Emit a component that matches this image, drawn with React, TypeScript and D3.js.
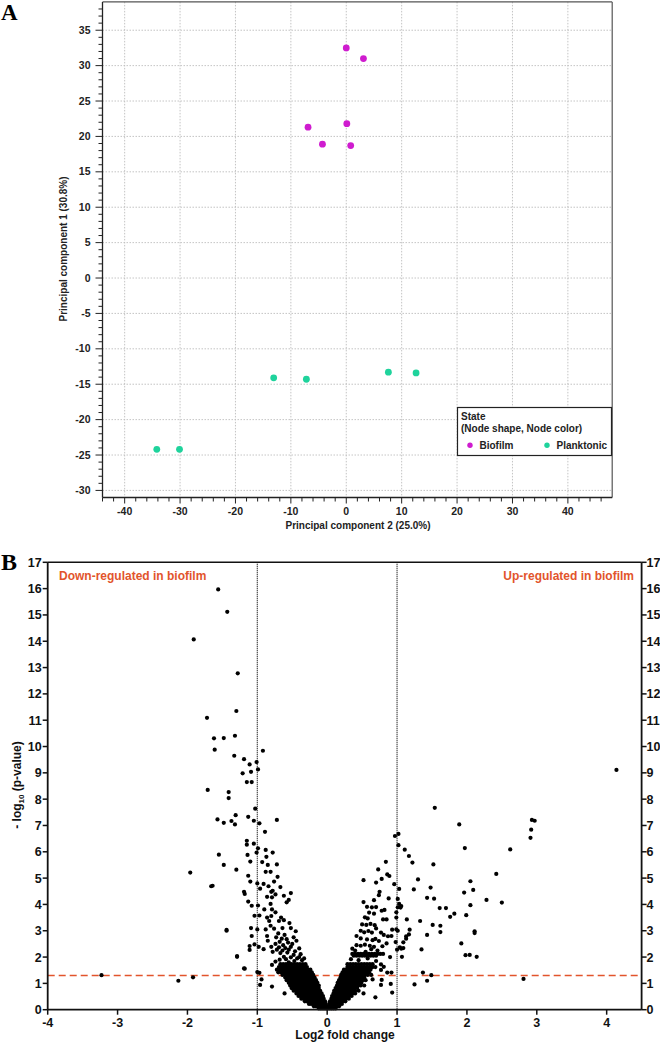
import React from 'react';
import * as d3 from 'd3';

// ---------- Panel A data (PCA) ----------
const biofilmPC2 = [0.0, 3.1, -6.9, -4.3, 0.1, 0.8];
const biofilmPC1 = [32.5, 31.0, 21.3, 18.9, 21.8, 18.7];
const planktonicPC2 = [-34.2, -30.1, -13.1, -7.2, 7.6, 12.6];
const planktonicPC1 = [-24.2, -24.2, -14.1, -14.3, -13.3, -13.4];
const pcaXTicks = [-40, -30, -20, -10, 0, 10, 20, 30, 40];
const pcaYTicks = [-30, -25, -20, -15, -10, -5, 0, 5, 10, 15, 20, 25, 30, 35];
const legendLabels = ['Biofilm', 'Planktonic'];

// ---------- Panel B data (volcano) ----------
const volcanoXTicks = [-4, -3, -2, -1, 0, 1, 2, 3, 4];
const volcanoYTicks = [0, 1, 2, 3, 4, 5, 6, 7, 8, 9, 10, 11, 12, 13, 14, 15, 16, 17];
const foldThresholds = [-1, 1];
const pThreshold = 1.3;

const downSparse: [number, number][] = [
  [-1.56, 15.97], [-1.43, 15.12], [-1.91, 14.07], [-1.28, 12.78], [-1.30, 11.35], [-1.72, 11.09],
  [-1.62, 10.31], [-1.48, 10.32], [-1.32, 10.41], [-1.61, 9.88], [-0.92, 9.84], [-1.33, 9.65],
  [-1.19, 9.52], [-1.11, 9.32], [-1.01, 9.41], [-1.09, 9.04], [-1.21, 8.98], [-0.99, 9.13],
  [-1.15, 8.65], [-1.08, 8.65], [-1.71, 8.35], [-1.41, 8.27], [-1.41, 8.04], [-1.03, 7.64],
  [-1.57, 7.23], [-1.48, 7.10], [-1.37, 7.17], [-1.31, 7.39], [-1.32, 7.04], [-1.13, 7.33],
  [-1.05, 7.18], [-0.97, 7.08], [-0.72, 7.21], [-0.89, 6.76], [-1.15, 6.42], [-1.15, 6.27],
  [-1.05, 6.31], [-0.99, 6.13], [-0.88, 6.07], [-1.55, 5.89], [-1.96, 5.21], [-1.66, 4.69],
  [-3.23, 1.31], [-2.13, 1.10], [-1.92, 1.23], [-1.14, 5.88], [-1.01, 5.97], [-0.93, 5.61],
  [-0.78, 5.97], [-0.87, 5.81], [-1.10, 5.63], [-1.48, 5.50], [-0.85, 5.50], [-0.72, 5.52],
  [-1.30, 5.32], [-0.88, 5.24], [-0.81, 5.24], [-1.13, 5.09], [-0.71, 5.05], [-1.10, 4.87],
  [-1.00, 4.80], [-0.91, 4.78], [-0.76, 4.87], [-0.84, 4.69], [-0.67, 4.66], [-0.78, 4.52],
  [-0.96, 4.60], [-1.19, 4.48], [-1.18, 4.40], [-0.80, 4.48], [-0.62, 4.33], [-0.52, 4.43],
  [-0.74, 4.38], [-0.86, 4.29], [-0.79, 4.27], [-0.55, 4.17], [-0.58, 4.08], [-1.13, 4.11],
  [-1.08, 3.95], [-0.99, 3.96], [-0.90, 3.81], [-0.81, 4.02], [-0.79, 3.81], [-0.74, 3.70],
  [-1.04, 3.57], [-0.97, 3.58], [-0.86, 3.50], [-0.80, 3.56], [-0.66, 3.50], [-0.83, 3.37],
  [-0.69, 3.37], [-0.62, 3.40], [-0.54, 3.29], [-0.81, 3.19], [-1.44, 3.00], [-1.09, 3.10],
  [-1.00, 3.05], [-0.88, 3.05], [-0.76, 3.08], [-0.64, 3.10], [-0.52, 3.10], [-0.45, 2.98],
  [-1.08, 2.80], [-0.86, 2.80], [-0.73, 2.75], [-0.61, 2.84], [-0.48, 2.75], [-0.85, 2.62],
  [-0.68, 2.58], [-0.56, 2.55], [-0.44, 2.62], [-1.11, 2.42], [-1.04, 2.48], [-0.98, 2.39],
  [-0.91, 2.30], [-0.80, 2.39], [-0.69, 2.37], [-0.60, 2.34], [-0.52, 2.39], [-0.40, 2.33],
  [-1.11, 2.27], [-0.78, 2.20], [-0.67, 2.15], [-0.57, 2.17], [-0.48, 2.08], [-0.38, 2.11],
  [-1.29, 2.01], [-0.62, 2.01], [-0.52, 1.99], [-0.43, 1.95], [-0.79, 1.70], [-1.18, 1.56],
  [-1.00, 1.43], [-0.97, 1.40], [-0.96, 0.94], [-0.94, 1.15], [-0.79, 0.88], [-0.61, 0.62],
  [-1.19, 1.57], [-1.29, 2.04], [-1.44, 3.03], [-1.64, 4.71], [-0.70, 2.90], [-0.65, 2.70],
  [-0.58, 2.68], [-0.50, 2.50], [-0.63, 2.45], [-0.74, 2.50], [-0.55, 2.28], [-0.46, 2.22],
  [-0.72, 2.28], [-0.64, 2.25], [-0.59, 1.92], [-0.68, 1.90], [-0.36, 1.88], [-0.47, 1.85],
  [-0.74, 1.83], [-0.55, 1.80], [-0.40, 2.00], [-0.33, 1.95],
];

const upSparse: [number, number][] = [
  [0.97, 6.60], [1.02, 6.68], [1.02, 6.25], [1.11, 6.08], [1.54, 7.67], [1.89, 7.04],
  [4.14, 9.11], [2.93, 7.21], [2.97, 7.18], [2.92, 6.84], [2.91, 6.53], [1.97, 6.14],
  [2.62, 6.09], [1.17, 5.84], [1.22, 5.59], [1.52, 5.52], [2.42, 5.16], [1.30, 4.95],
  [1.24, 4.57], [1.48, 4.64], [2.05, 4.88], [2.09, 4.55], [1.96, 4.45], [1.43, 4.25],
  [1.53, 4.22], [2.28, 4.17], [2.50, 4.07], [2.05, 3.97], [1.61, 3.86], [1.70, 3.86],
  [1.82, 3.65], [1.76, 3.53], [1.99, 3.59], [1.14, 3.43], [1.33, 3.37], [1.51, 3.22],
  [1.62, 3.19], [1.62, 2.95], [2.11, 2.98], [2.11, 2.91], [1.18, 3.04], [1.43, 2.84],
  [1.17, 2.86], [1.13, 2.79], [1.13, 2.70], [1.09, 2.56], [1.92, 2.52], [1.35, 2.29],
  [1.09, 2.34], [1.06, 2.32], [1.07, 2.01], [1.98, 2.07], [2.04, 2.08], [2.14, 2.01],
  [1.37, 1.41], [1.49, 1.31], [1.43, 1.10], [1.25, 0.96], [2.81, 1.17], [1.06, 3.94],
  [1.05, 3.88], [0.84, 5.62], [0.73, 5.33], [0.86, 5.14], [0.89, 5.08], [0.78, 4.97],
  [0.52, 4.92], [0.70, 4.83], [0.96, 4.77], [1.03, 4.59], [0.75, 4.48], [0.67, 4.16],
  [0.52, 4.09], [0.74, 4.35], [0.88, 4.23], [1.01, 4.21], [1.03, 4.02], [0.57, 3.91],
  [0.64, 3.89], [0.70, 3.90], [0.78, 3.76], [0.82, 3.79], [1.01, 3.89], [0.60, 3.69],
  [0.67, 3.65], [0.99, 3.70], [0.54, 3.51], [0.58, 3.47], [0.80, 3.43], [0.85, 3.43],
  [0.99, 3.50], [0.50, 3.24], [0.56, 3.22], [0.62, 3.26], [0.68, 3.21], [0.70, 3.09],
  [0.93, 3.04], [0.99, 3.05], [1.01, 3.00], [0.48, 3.00], [0.53, 2.94], [0.59, 2.99],
  [0.64, 2.93], [0.77, 2.93], [0.81, 2.84], [0.87, 2.79], [0.92, 2.80], [0.42, 2.80],
  [0.48, 2.71], [0.57, 2.67], [0.65, 2.64], [0.69, 2.69], [0.74, 2.61], [0.85, 2.52],
  [0.98, 2.57], [0.42, 2.45], [0.48, 2.43], [0.54, 2.47], [0.61, 2.43], [0.67, 2.39],
  [0.79, 2.41], [1.04, 2.37], [1.00, 2.28], [0.90, 2.00], [0.77, 1.72], [0.81, 1.63],
  [0.77, 1.51], [0.86, 1.41], [0.92, 1.41], [0.65, 1.15], [0.78, 1.13], [0.77, 0.94],
  [0.91, 0.98], [0.93, 0.65], [0.69, 0.47], [0.52, 0.62], [0.34, 1.92], [0.45, 1.88],
  [0.58, 1.95], [0.70, 1.85], [0.40, 2.25], [0.55, 2.20], [0.63, 2.30], [0.72, 2.25],
  [0.36, 2.32],
];

// dense bands, read row by row: [-log10 p, list of log2 FC]
const denseRows: [number, number[]][] = [
  [2.12, [0.36, 0.40, 0.44, 0.48, 0.52, 0.56, 0.60, 0.64, 0.68, 0.72, 0.76, 0.80]],
  [2.05, [0.38, 0.42, 0.46, 0.50, 0.54, 0.58, 0.62, 0.66, 0.70]],
  [1.73, [-0.67, -0.63, -0.59, -0.55, -0.51, -0.47, -0.43, -0.39, -0.35, -0.31, 0.29, 0.33, 0.37, 0.41, 0.45, 0.49, 0.53, 0.57, 0.61, 0.65]],
  [1.62, [-0.69, -0.65, -0.61, -0.57, -0.53, -0.49, -0.45, -0.41, -0.37, -0.33, -0.29, 0.29, 0.33, 0.37, 0.41, 0.45, 0.49, 0.53, 0.57, 0.61, 0.65, 0.69]],
  [1.52, [-0.72, -0.68, -0.64, -0.60, -0.56, -0.52, -0.48, -0.44, -0.40, -0.36, -0.32, -0.28, -0.24, 0.24, 0.27, 0.30, 0.33, 0.36, 0.39, 0.42, 0.45, 0.48, 0.51, 0.55, 0.59, 0.62]],
  [1.42, [-0.70, -0.66, -0.62, -0.58, -0.54, -0.50, -0.46, -0.42, -0.38, -0.34, -0.30, -0.26, -0.22, 0.22, 0.25, 0.28, 0.31, 0.34, 0.37, 0.40, 0.43, 0.46, 0.49, 0.52, 0.56, 0.60]],
  [1.32, [-0.64, -0.60, -0.57, -0.53, -0.50, -0.47, -0.44, -0.41, -0.38, -0.35, -0.32, -0.29, -0.26, -0.23, -0.20, 0.20, 0.23, 0.26, 0.29, 0.32, 0.35, 0.38, 0.41, 0.44, 0.47, 0.50, 0.54, 0.58, 0.63]],
  [1.22, [-0.60, -0.56, -0.53, -0.50, -0.47, -0.44, -0.41, -0.38, -0.35, -0.32, -0.29, -0.26, -0.23, -0.20, -0.18, 0.19, 0.22, 0.25, 0.28, 0.31, 0.34, 0.37, 0.40, 0.43, 0.46, 0.49, 0.53]],
  [1.12, [-0.58, -0.54, -0.51, -0.48, -0.45, -0.42, -0.39, -0.36, -0.33, -0.30, -0.27, -0.24, -0.21, -0.18, -0.16, 0.17, 0.20, 0.23, 0.26, 0.29, 0.32, 0.35, 0.38, 0.41, 0.44, 0.47, 0.51, 0.55]],
  [1.02, [-0.55, -0.52, -0.49, -0.46, -0.43, -0.40, -0.37, -0.34, -0.31, -0.28, -0.25, -0.22, -0.19, -0.16, -0.14, 0.15, 0.18, 0.21, 0.24, 0.27, 0.30, 0.33, 0.36, 0.39, 0.42, 0.45, 0.49]],
  [0.92, [-0.53, -0.50, -0.47, -0.44, -0.41, -0.38, -0.35, -0.32, -0.29, -0.26, -0.23, -0.20, -0.17, -0.14, -0.12, 0.14, 0.17, 0.20, 0.23, 0.26, 0.29, 0.32, 0.35, 0.38, 0.41, 0.44, 0.48, 0.53]],
  [0.82, [-0.51, -0.48, -0.45, -0.42, -0.39, -0.36, -0.33, -0.30, -0.27, -0.24, -0.21, -0.18, -0.15, -0.12, 0.12, 0.15, 0.18, 0.21, 0.24, 0.27, 0.30, 0.33, 0.36, 0.39, 0.43]],
  [0.72, [-0.48, -0.45, -0.42, -0.39, -0.36, -0.33, -0.30, -0.27, -0.24, -0.21, -0.18, -0.15, -0.12, -0.10, 0.10, 0.13, 0.16, 0.19, 0.22, 0.25, 0.28, 0.31, 0.34, 0.37, 0.40, 0.45]],
  [0.62, [-0.44, -0.41, -0.38, -0.35, -0.32, -0.29, -0.26, -0.23, -0.20, -0.17, -0.14, -0.11, -0.08, 0.09, 0.12, 0.15, 0.18, 0.21, 0.24, 0.27, 0.30, 0.33, 0.36, 0.40]],
  [0.52, [-0.41, -0.38, -0.35, -0.32, -0.29, -0.26, -0.23, -0.20, -0.17, -0.14, -0.11, -0.08, -0.06, 0.07, 0.10, 0.13, 0.16, 0.19, 0.22, 0.25, 0.28, 0.31, 0.35]],
  [0.42, [-0.37, -0.34, -0.31, -0.28, -0.25, -0.22, -0.19, -0.16, -0.13, -0.10, -0.07, -0.05, 0.06, 0.09, 0.12, 0.15, 0.18, 0.21, 0.24, 0.27, 0.31]],
  [0.32, [-0.32, -0.29, -0.26, -0.23, -0.20, -0.17, -0.14, -0.11, -0.08, -0.05, -0.03, 0.04, 0.07, 0.10, 0.13, 0.16, 0.19, 0.22, 0.26]],
  [0.22, [-0.26, -0.23, -0.20, -0.17, -0.14, -0.11, -0.08, -0.05, -0.02, 0.03, 0.06, 0.09, 0.12, 0.15, 0.18, 0.21]],
  [0.13, [-0.19, -0.16, -0.13, -0.10, -0.07, -0.04, -0.01, 0.02, 0.05, 0.08, 0.11, 0.14, 0.17]],
  [0.05, [-0.12, -0.09, -0.06, -0.03, 0.00, 0.03, 0.06, 0.09, 0.12]],
];

const FONT = 'Arial, "Liberation Sans", Helvetica, sans-serif';
const BIOFILM = '#cf1ccf';
const PLANKTONIC = '#1fd39c';
const ACCENT = '#e2542c';

export default function App() {
  // Panel A scales
  const ax = d3.scaleLinear().domain([-44, 48]).range([102.5, 612.2]);
  const ay = d3.scaleLinear().domain([-31, 39]).range([497.5, 1.9]);
  const aMinorY = d3.range(-30, 39, 1);
  const aMinorX = d3.range(-44, 47, 2);

  // Panel B scales
  const bx = d3.scaleLinear().domain([-4, 4.5]).range([47.7, 641.6]);
  const by = d3.scaleLinear().domain([0, 17]).range([1009.7, 562.3]);

  const volcanoPoints: [number, number][] = [
    ...downSparse,
    ...upSparse,
    ...denseRows.flatMap(([y, xs]) => xs.map((x) => [x, y] as [number, number])),
  ];

  const biofilm = biofilmPC2.map((x, i) => [x, biofilmPC1[i]]);
  const planktonic = planktonicPC2.map((x, i) => [x, planktonicPC1[i]]);

  const [ax0, ax1] = ax.range();
  const [ay0, ay1] = ay.range();
  const [bx0, bx1] = bx.range();
  const [by0, by1] = by.range();

  return (
    <svg width={660} height={1043} style={{ position: 'absolute', left: 0, top: 0, background: '#fff' }} fontFamily={FONT}>
      <rect x={0} y={0} width={660} height={1043} fill="#fff" />
      {/* ================= Panel A ================= */}
      <text x={1} y={20} fontFamily='"Liberation Serif", "Times New Roman", serif' fontWeight="bold" fontSize={23}>A</text>
      {/* grid */}
      {pcaXTicks.map((t) => (
        <line key={'gx' + t} x1={ax(t)} x2={ax(t)} y1={ay1} y2={ay0} stroke="#bdbdbd" strokeWidth={0.9} strokeDasharray="1.5,1.5" />
      ))}
      {pcaYTicks.map((t) => (
        <line key={'gy' + t} x1={ax0} x2={ax1} y1={ay(t)} y2={ay(t)} stroke="#bdbdbd" strokeWidth={0.9} strokeDasharray="1.5,1.5" />
      ))}
      {/* frame */}
      <line x1={ax0} x2={ax1} y1={ay1} y2={ay1} stroke="#555" strokeWidth={1.2} />
      <line x1={ax1} x2={ax1} y1={ay1} y2={ay0} stroke="#555" strokeWidth={1.2} />
      <line x1={ax0} x2={ax0} y1={ay1} y2={ay0} stroke="#222" strokeWidth={1.3} />
      <line x1={ax0} x2={ax1} y1={ay0} y2={ay0} stroke="#222" strokeWidth={1.3} />
      {/* y ticks */}
      {aMinorY.map((t) => (
        <line key={'ymt' + t} x1={ax0 - (t % 5 === 0 ? 7 : 4)} x2={ax0} y1={ay(t)} y2={ay(t)} stroke="#222" strokeWidth={1} />
      ))}
      {pcaYTicks.map((t) => (
        <text key={'yl' + t} x={ax0 - 12} y={ay(t) + 3.6} textAnchor="end" fontSize={10.5} fontWeight="bold" fill="#222">{t}</text>
      ))}
      {/* x ticks */}
      {aMinorX.map((t) => (
        <line key={'xmt' + t} x1={ax(t)} x2={ax(t)} y1={ay0} y2={ay0 + (t % 10 === 0 ? 6 : 4)} stroke="#222" strokeWidth={1} />
      ))}
      {pcaXTicks.map((t) => (
        <text key={'xl' + t} x={ax(t)} y={ay0 + 17} textAnchor="middle" fontSize={10.5} fontWeight="bold" fill="#222">{t}</text>
      ))}
      <text x={358} y={529} textAnchor="middle" fontSize={10} fontWeight="bold" fill="#222">Principal component 2 (25.0%)</text>
      <text transform="translate(67,249) rotate(-90)" textAnchor="middle" fontSize={10} fontWeight="bold" fill="#222">Principal component 1 (30.8%)</text>
      {/* points */}
      {biofilm.map((d, i) => (
        <circle key={'b' + i} cx={ax(d[0])} cy={ay(d[1])} r={3.4} fill={BIOFILM} />
      ))}
      {planktonic.map((d, i) => (
        <circle key={'p' + i} cx={ax(d[0])} cy={ay(d[1])} r={3.4} fill={PLANKTONIC} />
      ))}
      {/* legend */}
      <rect x={457.5} y={407.5} width={154} height={48} fill="#fff" stroke="#222" strokeWidth={1.2} />
      <text x={461} y={420} fontSize={10} fontWeight="bold" fill="#222">State</text>
      <text x={461} y={432} fontSize={10} fontWeight="bold" fill="#222">(Node shape, Node color)</text>
      <circle cx={470} cy={445.3} r={2.7} fill={BIOFILM} />
      <text x={479.5} y={448.8} fontSize={10} fontWeight="bold" fill="#222">{legendLabels[0]}</text>
      <circle cx={547} cy={445.3} r={2.7} fill={PLANKTONIC} />
      <text x={556.5} y={448.8} fontSize={10} fontWeight="bold" fill="#222">{legendLabels[1]}</text>

      {/* ================= Panel B ================= */}
      <text x={1} y={570} fontFamily='"Liberation Serif", "Times New Roman", serif' fontWeight="bold" fontSize={24}>B</text>
      {/* threshold lines */}
      {foldThresholds.map((t) => (
        <line key={'ft' + t} x1={bx(t)} x2={bx(t)} y1={by1} y2={by0} stroke="#111" strokeWidth={1.2} strokeDasharray="1,1" />
      ))}
      <line x1={bx0} x2={bx1} y1={by(pThreshold)} y2={by(pThreshold)} stroke={ACCENT} strokeWidth={1.5} strokeDasharray="7,4" />
      {/* points */}
      {volcanoPoints.map((d, i) => (
        <circle key={'v' + i} cx={bx(d[0])} cy={by(d[1])} r={2.1} fill="#000" />
      ))}
      {/* axes */}
      <line x1={bx0} x2={bx1} y1={by1} y2={by1} stroke="#111" strokeWidth={1.6} />
      <line x1={bx0} x2={bx1} y1={by0} y2={by0} stroke="#111" strokeWidth={1.8} />
      <line x1={bx0} x2={bx0} y1={by1} y2={by0} stroke="#111" strokeWidth={1.8} />
      <line x1={bx1} x2={bx1} y1={by1} y2={by0} stroke="#111" strokeWidth={1.8} />
      {volcanoYTicks.map((t) => (
        <g key={'vy' + t}>
          <line x1={bx0 - 5} x2={bx0} y1={by(t)} y2={by(t)} stroke="#111" strokeWidth={1.5} />
          <line x1={bx1} x2={bx1 + 5} y1={by(t)} y2={by(t)} stroke="#111" strokeWidth={1.5} />
          <text x={bx0 - 6} y={by(t) + 4.5} textAnchor="end" fontSize={12.5} fontWeight="bold" fill="#111">{t}</text>
          <text x={bx1 + 5} y={by(t) + 4.5} textAnchor="start" fontSize={12.5} fontWeight="bold" fill="#111">{t}</text>
        </g>
      ))}
      {volcanoXTicks.map((t) => (
        <g key={'vx' + t}>
          <line x1={bx(t)} x2={bx(t)} y1={by0} y2={by0 + 5} stroke="#111" strokeWidth={1.5} />
          <text x={bx(t)} y={by0 + 17} textAnchor="middle" fontSize={12.5} fontWeight="bold" fill="#111">{t}</text>
        </g>
      ))}
      <text x={345} y={1039} textAnchor="middle" fontSize={12} fontWeight="bold" fill="#111">Log2 fold change</text>
      <text transform="translate(21,785) rotate(-90)" textAnchor="middle" fontSize={12} fontWeight="bold" fill="#111">
        - log<tspan fontSize={8} dy={3}>10</tspan><tspan dy={-3}> (p-value)</tspan>
      </text>
      <text x={59} y={580} fontSize={12} fontWeight="bold" fill={ACCENT}>Down-regulated in biofilm</text>
      <text x={634} y={580} textAnchor="end" fontSize={12} fontWeight="bold" fill={ACCENT}>Up-regulated in biofilm</text>
    </svg>
  );
}
